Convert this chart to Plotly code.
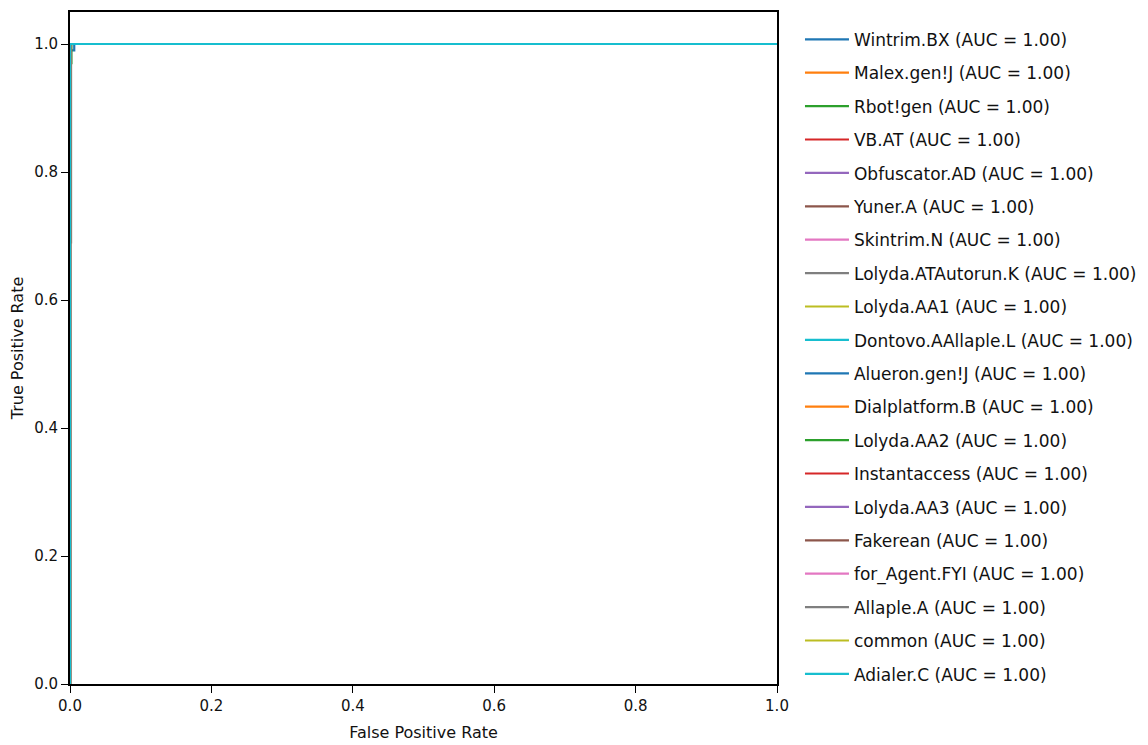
import plotly.graph_objects as go

classes = ["Wintrim.BX", "Malex.gen!J", "Rbot!gen", "VB.AT", "Obfuscator.AD",
           "Yuner.A", "Skintrim.N", "Lolyda.ATAutorun.K", "Lolyda.AA1",
           "Dontovo.AAllaple.L", "Alueron.gen!J", "Dialplatform.B", "Lolyda.AA2",
           "Instantaccess", "Lolyda.AA3", "Fakerean", "for_Agent.FYI",
           "Allaple.A", "common", "Adialer.C"]
auc = [1.00] * 20

# ROC points per class (fpr, tpr)
fpr = {c: [0.0, 0.0, 1.0] for c in classes}
tpr = {c: [0.0, 1.0, 1.0] for c in classes}
fpr["Rbot!gen"] = [0.0, 0.0, 0.002, 0.002, 1.0]
tpr["Rbot!gen"] = [0.0, 0.97, 0.97, 1.0, 1.0]
fpr["Wintrim.BX"] = [0.0, 0.0, 0.006, 0.006, 1.0]
tpr["Wintrim.BX"] = [0.0, 0.99, 0.99, 1.0, 1.0]
fpr["Lolyda.ATAutorun.K"] = [0.0, 0.0, 0.0015, 0.0015, 1.0]
tpr["Lolyda.ATAutorun.K"] = [0.0, 0.69, 0.69, 1.0, 1.0]

tab10 = ["#1f77b4", "#ff7f0e", "#2ca02c", "#d62728", "#9467bd",
         "#8c564b", "#e377c2", "#7f7f7f", "#bcbd22", "#17becf"]

fig = go.Figure()
for i, c in enumerate(classes):
    fig.add_trace(go.Scatter(
        x=fpr[c], y=tpr[c], mode="lines",
        line=dict(color=tab10[i % 10], width=2.2),
        name=f"{c} (AUC = {auc[i]:.2f})",
        legendgroup=f"g{i}",
    ))

axis_common = dict(showline=True, linecolor="black", linewidth=2, mirror=True,
                   ticks="outside", ticklen=7, tickwidth=1.3, tickcolor="black",
                   showgrid=False, zeroline=False,
                   tickfont=dict(family="DejaVu Sans", size=15, color="#111"))

ticks = [0, 0.2, 0.4, 0.6, 0.8, 1.0]
tick_text = ["0.0", "0.2", "0.4", "0.6", "0.8", "1.0"]

fig.update_xaxes(range=[0, 1], tickvals=ticks, ticktext=tick_text,
                 title=dict(text="False Positive Rate", standoff=13,
                            font=dict(family="DejaVu Sans", size=16, color="#111")),
                 **axis_common)
fig.update_yaxes(range=[0, 1.05], tickvals=ticks, ticktext=tick_text,
                 title=dict(text="True Positive Rate", standoff=12,
                            font=dict(family="DejaVu Sans", size=16, color="#111")),
                 **axis_common)

fig.update_layout(
    width=1140, height=737,
    margin=dict(l=62, r=371, t=2, b=61),
    plot_bgcolor="white", paper_bgcolor="white",
    font=dict(family="DejaVu Sans", color="#111"),
    legend=dict(x=1.0325, y=0.9855, xanchor="left", yanchor="top",
                font=dict(family="DejaVu Sans", size=17, color="#111"),
                tracegroupgap=8.3, itemwidth=44, maxheight=730,
                bgcolor="rgba(0,0,0,0)"),
    showlegend=True,
)

fig.write_html("out.html")
